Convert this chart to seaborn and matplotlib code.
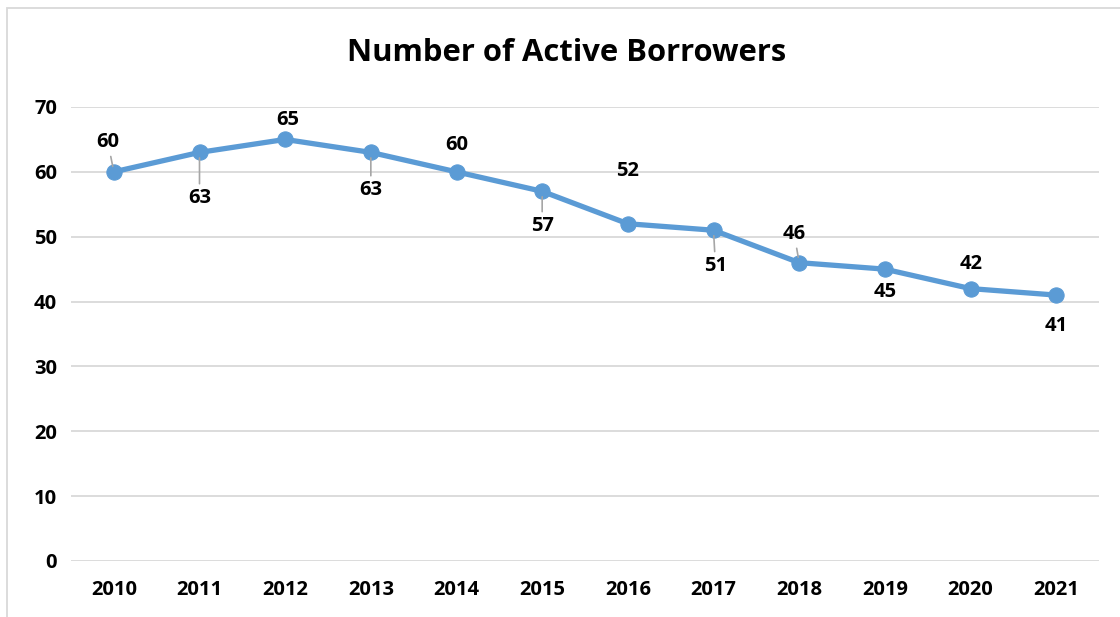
import seaborn as sns
import matplotlib.pyplot as plt
import pandas as pd
from matplotlib.patches import Rectangle

# data
years = [2010, 2011, 2012, 2013, 2014, 2015, 2016, 2017, 2018, 2019, 2020, 2021]
borrowers = [60, 63, 65, 63, 60, 57, 52, 51, 46, 45, 42, 41]

# label offsets from each point (pixels, +down), and whether a leader line is drawn
label_dx = [-6, 0, 3, 0, 0, 0, 0, 2, -5, 0, 1, 0]
label_dy = [-30, 46, -19, 38, -27, 35, -53, 36, -29, 23, -25, 31]
leaders = [True, True, False, True, False, True, False, True, True, False, False, False]

df = pd.DataFrame({"Year": years, "Borrowers": borrowers})

sns.set_style("white")
plt.rcParams["font.family"] = ["Open Sans", "DejaVu Sans"]

fig = plt.figure(figsize=(11.2, 6.17), dpi=100)
ax = fig.add_axes([71 / 1120, 1 - 561 / 617, 1028 / 1120, 454 / 617])

line_color = "#5B9BD5"
sns.lineplot(data=df, x="Year", y="Borrowers", ax=ax, color=line_color,
             linewidth=3.8, marker="o", markersize=11,
             markeredgecolor=line_color, zorder=3)

ax.set_xlim(years[0] - 0.5, years[-1] + 0.5)
ax.set_ylim(0, 70)
ax.set_xticks(years)
ax.set_yticks(range(0, 71, 10))
ax.grid(axis="y", color="#D9D9D9", linewidth=1.3)
ax.grid(axis="x", visible=False)
for s in ax.spines.values():
    s.set_visible(False)
ax.tick_params(axis="both", length=0, labelsize=14.5, labelcolor="black")
ax.tick_params(axis="x", pad=14)
ax.tick_params(axis="y", pad=10)
for lbl in ax.get_xticklabels() + ax.get_yticklabels():
    lbl.set_fontweight("bold")
ax.set_xlabel("")
ax.set_ylabel("")

for yr, v, dx, dy, lead in zip(years, borrowers, label_dx, label_dy, leaders):
    arrow = dict(arrowstyle="-", color="#A6A6A6", lw=1.2, shrinkA=1, shrinkB=4) if lead else None
    ax.annotate(str(v), xy=(yr, v), xytext=(dx * 0.72, -dy * 0.72),
                textcoords="offset points", ha="center", va="center",
                fontsize=14.5, fontweight="bold", color="black",
                arrowprops=arrow, zorder=4)

fig.text(567 / 1120, 1 - 53 / 617, "Number of Active Borrowers",
         ha="center", va="center", fontsize=22.3, fontweight="bold", color="black")

# chart border
fig.patches.append(Rectangle((7 / 1120, -0.1), 1.2, 1.1 - 8 / 617,
                             transform=fig.transFigure, fill=False,
                             edgecolor="#D9D9D9", linewidth=1.3))

fig.savefig("out.png", dpi=100)
plt.close(fig)
